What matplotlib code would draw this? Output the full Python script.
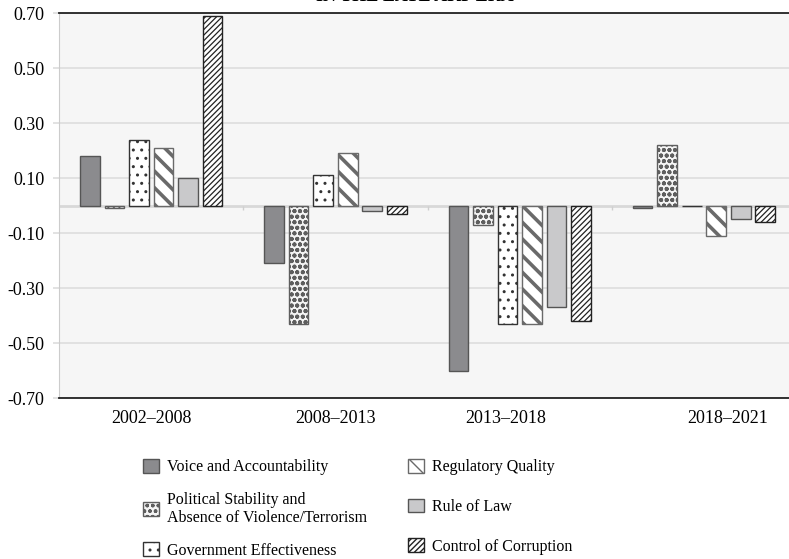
import numpy as np
import matplotlib
matplotlib.use('Agg')
import matplotlib.pyplot as plt

periods = ['2002–2008', '2008–2013', '2013–2018', '2018–2021']
indicators = ['Voice and Accountability',
              'Political Stability and\nAbsence of Violence/Terrorism',
              'Government Effectiveness',
              'Regulatory Quality',
              'Rule of Law',
              'Control of Corruption']

voice = [0.18, -0.21, -0.60, -0.01]
stability = [-0.01, -0.43, -0.07, 0.22]
effectiveness = [0.24, 0.11, -0.43, 0.00]
regulatory = [0.21, 0.19, -0.43, -0.11]
rule_of_law = [0.10, -0.02, -0.37, -0.05]
corruption = [0.69, -0.03, -0.42, -0.06]

yticks = [0.70, 0.50, 0.30, 0.10, -0.10, -0.30, -0.50, -0.70]

plt.rcParams['font.family'] = ['Liberation Serif', 'DejaVu Serif']

series = [voice, stability, effectiveness, regulatory, rule_of_law, corruption]
styles = [
    dict(facecolor='#8b8b8e', edgecolor='#555555', hatch=None, hlw=1.0),
    dict(facecolor='#f4f4f4', edgecolor='#5e5e5e', hatch='ooo', hlw=1.3),
    dict(facecolor='white', edgecolor='#333333', hatch='..', hlw=1.0),
    dict(facecolor='white', edgecolor='#6a6a6a', hatch='\\\\', hlw=2.6),
    dict(facecolor='#c9c9cb', edgecolor='#555555', hatch=None, hlw=1.0),
    dict(facecolor='white', edgecolor='#222222', hatch='//////', hlw=0.9),
]

fig = plt.figure(figsize=(7.89, 5.59), dpi=100)
ax = fig.add_axes([0.0748, 0.288, 0.9341, 0.6887])
ax.set_facecolor('#f6f6f6')

x = np.arange(len(periods))
step = 0.133
width = 0.107
handles = []
for k, (vals, st) in enumerate(zip(series, styles)):
    bars = ax.bar(x + (k - 2.5) * step, vals, width, facecolor=st['facecolor'],
                  edgecolor=st['edgecolor'], hatch=st['hatch'], linewidth=1.0,
                  label=indicators[k], zorder=3)
    for b in bars:
        try:
            b.set_hatch_linewidth(st['hlw'])
        except AttributeError:
            pass
    handles.append(bars)

ax.set_xlim(-0.5, 3.5)
ax.set_ylim(-0.70, 0.70)
ax.set_yticks(yticks)
ax.set_yticklabels([f'{v:.2f}' for v in yticks], fontsize=13)
ax.yaxis.grid(True, color='#dddddd', linewidth=1.2, zorder=0)
ax.tick_params(axis='y', length=4.5, width=1.2, color='#dddddd', pad=6)
ax.axhline(0, color='#d8d8d8', linewidth=2, zorder=2)
ax.vlines(x[1:] - 0.5, -0.015, 0, color='#cfcfcf', linewidth=1, zorder=2)

ax.set_xticks([])
# the last two period labels sit off-centre in the original
label_shift = [0.0, 0.0, -0.075, 0.13]
for i, p in enumerate(periods):
    ax.text(i + label_shift[i], -0.70 - 0.074, p, ha='center', va='center',
            fontsize=13, transform=ax.transData)

ax.spines['left'].set_color('#cccccc')
ax.spines['right'].set_visible(False)
ax.spines['bottom'].set_color('#222222')
ax.spines['bottom'].set_linewidth(1.3)
ax.spines['top'].set_color('#222222')
ax.spines['top'].set_linewidth(1.3)

# title is cropped at the top edge in the original
fig.text(0.526, 1.007, 'IN THE LATE AKP ERA', ha='center', va='center',
         fontsize=13, fontweight='bold')

common = dict(loc='upper left', frameon=False, fontsize=11.5, handlelength=0.95,
              handleheight=0.95, handletextpad=0.5)
fig.legend(handles[:3], indicators[:3], bbox_to_anchor=(0.1635, 0.205),
           labelspacing=1.03, **common)
fig.legend(handles[3:], indicators[3:], bbox_to_anchor=(0.4994, 0.205),
           labelspacing=1.47, **common)

fig.savefig('out.png', dpi=100, facecolor='white')
